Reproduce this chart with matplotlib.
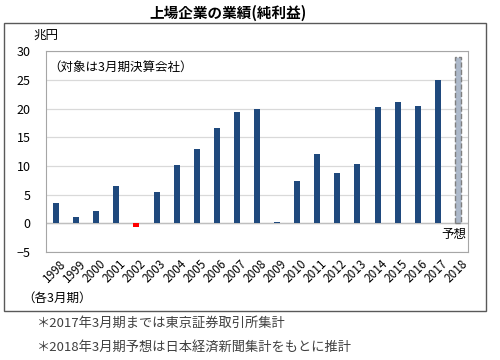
import matplotlib.pyplot as plt
from matplotlib.patches import Rectangle
from matplotlib.transforms import ScaledTranslation

plt.rcParams['font.family'] = ['Noto Sans CJK JP', 'DejaVu Sans']

# data (兆円, 各3月期)
years = ['1998', '1999', '2000', '2001', '2002', '2003', '2004', '2005',
         '2006', '2007', '2008', '2009', '2010', '2011', '2012', '2013',
         '2014', '2015', '2016', '2017', '2018']
profit = [3.5, 1.05, 2.1, 6.45, -0.6, 5.4, 10.2, 13.0, 16.6, 19.4, 19.9,
          0.2, 7.3, 12.0, 8.7, 10.3, 20.3, 21.2, 20.5, 25.0, 29.0]
forecast_year = '2018'

navy = '#1f497d'

fig = plt.figure(figsize=(5, 3.6), dpi=100)

# outer frame
fig.patches.append(Rectangle((0.008, 0.136), 0.964, 0.800, transform=fig.transFigure,
                             fill=False, edgecolor='#595959', linewidth=1.0))

ax = fig.add_axes([0.092, 0.300, 0.844, 0.558])
x = list(range(len(years)))
for xi, yr, v in zip(x, years, profit):
    if yr == forecast_year:
        ax.bar(xi, v, width=0.3, color='#adb9ca', edgecolor='#7f7f7f',
               linestyle='--', linewidth=1.0, zorder=3)
    else:
        ax.bar(xi, v, width=0.3, color=navy if v >= 0 else '#ff0000', zorder=3)

ax.set_xlim(-0.5, len(years) - 0.5)
ax.set_ylim(-5, 30)
ax.set_yticks(range(-5, 31, 5))
ax.set_yticklabels(['−5' if t < 0 else str(t) for t in range(-5, 31, 5)])
ax.grid(axis='y', color='#d9d9d9', linewidth=0.9, zorder=0)
ax.axhline(0, color='#bfbfbf', linewidth=1.0, zorder=2)
for s in ax.spines.values():
    s.set_color('#a6a6a6')
ax.tick_params(axis='y', length=0, pad=11, labelsize=9)
ax.tick_params(axis='x', length=0, pad=4, labelsize=8.5)
ax.set_xticks(x)
ax.set_xticklabels(years, rotation=45, ha='right', va='top', rotation_mode='anchor')
shift = ScaledTranslation(0.03, 0, fig.dpi_scale_trans)
for lbl in ax.get_xticklabels():
    lbl.set_transform(lbl.get_transform() + shift)

ax.text(-0.4, 27.0, '（対象は3月期決算会社）', fontsize=9, va='center', ha='left')
ax.text(20.4, -2.0, '予想', fontsize=9, va='center', ha='right')

fig.text(0.457, 0.963, '上場企業の業績(純利益)', fontsize=10.5, fontweight='bold',
         ha='center', va='center')
fig.text(0.066, 0.902, '兆円', fontsize=9, ha='left', va='center')
fig.text(0.044, 0.172, '（各3月期）', fontsize=9, ha='left', va='center')
fig.text(0.074, 0.102, '＊2017年3月期までは東京証券取引所集計', fontsize=9.5,
         color='#404040', ha='left', va='center')
fig.text(0.074, 0.036, '＊2018年3月期予想は日本経済新聞集計をもとに推計', fontsize=9.5,
         color='#404040', ha='left', va='center')

fig.savefig('out.png', dpi=100)
